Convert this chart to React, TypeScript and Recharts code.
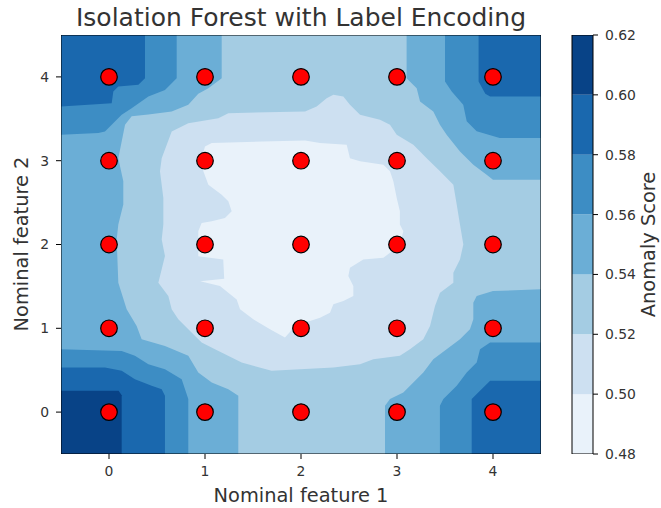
import React from 'react';
import { ScatterChart, Scatter, XAxis, YAxis } from 'recharts';

// colour levels of the anomaly score (contourf levels) and the Blues colours of each band
const levels = [0.48, 0.5, 0.52, 0.54, 0.56, 0.58, 0.6, 0.62];
const bandColors = ['#e9f2fa', '#cde0f1', '#a4cce3', '#6baed6', '#3d8dc4', '#1a68ae', '#084387'];

// the label encoded categories of both features
const feature1Values = [0, 1, 2, 3, 4];
const feature2Values = [0, 1, 2, 3, 4];

// contour regions, as [feature 1, feature 2] vertices
const plotBox: [number, number][] = [[-0.5, -0.5], [4.5, -0.5], [4.5, 4.5], [-0.5, 4.5], [-0.5, -0.5]];

const cornerAbove060: [number, number][] = [
  [-0.5, -0.5], [0.132, -0.5], [0.132, 0.2], [0.1, 0.255], [-0.5, 0.255],
];

const regionBelow058: [number, number][] = [
  [-0.5, 3.647], [0.028, 3.687], [0.045, 3.825], [0.097, 3.885], [0.306, 3.905], [0.375, 3.984], [0.375, 4.5],
  [3.85, 4.5], [3.85, 3.944], [3.92, 3.8], [3.97, 3.766], [4.5, 3.766],
  [4.5, 0.373], [3.97, 0.373], [3.778, 0.155], [3.778, -0.5],
  [0.583, -0.5], [0.583, 0.195], [0.549, 0.274], [0.444, 0.314], [0.27, 0.393], [0.132, 0.493], [-0.042, 0.532], [-0.5, 0.532],
];

const regionBelow056: [number, number][] = [
  [-0.5, 3.31], [-0.111, 3.33], [-0.042, 3.349], [0.132, 3.548], [0.236, 3.627], [0.41, 3.766], [0.583, 3.845], [0.705, 3.984], [0.705, 4.5],
  [3.5, 4.5], [3.5, 3.944], [3.57, 3.825], [3.69, 3.667], [3.726, 3.47], [3.83, 3.35], [4.07, 3.27], [4.5, 3.27],
  [4.5, 0.83], [3.97, 0.83], [3.865, 0.75], [3.83, 0.592], [3.726, 0.473], [3.622, 0.314], [3.483, 0.155], [3.447, 0.076], [3.447, -0.5],
  [0.826, -0.5], [0.826, 0.155], [0.757, 0.393], [0.583, 0.512], [0.41, 0.572], [0.27, 0.671], [0.132, 0.73], [-0.5, 0.75],
];

const regionBelow054: [number, number][] = [
  [1.174, 4.5], [3.1, 4.5], [3.1, 3.984], [3.205, 3.865], [3.24, 3.706], [3.378, 3.587], [3.447, 3.43], [3.517, 3.31],
  [3.656, 3.111], [3.795, 2.952], [3.934, 2.833], [4.0, 2.774], [4.5, 2.774],
  [4.5, 1.465], [4.0, 1.445], [3.83, 1.385], [3.795, 1.306], [3.795, 1.108], [3.76, 0.989], [3.656, 0.87], [3.517, 0.75],
  [3.378, 0.631], [3.274, 0.473], [3.17, 0.354], [3.066, 0.235], [2.927, 0.155], [2.875, 0.076], [2.875, -0.5],
  [1.347, -0.5], [1.347, 0.195], [1.243, 0.274], [1.07, 0.354], [0.93, 0.473], [0.826, 0.671], [0.583, 0.79], [0.34, 0.87],
  [0.288, 1.028], [0.184, 1.227], [0.097, 1.544], [0.08, 2.06], [0.097, 2.238], [0.149, 2.476], [0.149, 2.754], [0.097, 3.03],
  [0.132, 3.23], [0.167, 3.43], [0.236, 3.53], [0.41, 3.55], [0.653, 3.587], [0.826, 3.667], [0.93, 3.8], [1.035, 3.865], [1.174, 3.984],
];

const regionBelow052: [number, number][] = [
  [0.566, 2.238], [0.566, 2.556], [0.531, 2.873], [0.549, 3.03], [0.653, 3.349], [0.826, 3.448], [1.139, 3.508], [1.243, 3.567],
  [2.042, 3.587], [2.163, 3.647], [2.267, 3.746], [2.337, 3.786], [2.441, 3.766], [2.51, 3.667], [2.615, 3.548], [2.823, 3.488],
  [2.927, 3.43], [2.997, 3.31], [3.17, 3.19], [3.309, 3.03], [3.448, 2.873], [3.587, 2.714], [3.622, 2.476], [3.656, 2.238],
  [3.691, 2.0], [3.656, 1.822], [3.587, 1.663], [3.587, 1.544], [3.448, 1.425], [3.396, 1.266], [3.344, 1.028], [3.274, 0.87],
  [3.135, 0.75], [3.03, 0.671], [2.753, 0.631], [2.615, 0.572], [2.337, 0.532], [1.99, 0.512], [1.694, 0.492], [1.382, 0.592],
  [1.104, 0.75], [0.965, 0.83], [0.826, 0.989], [0.722, 1.108], [0.653, 1.227], [0.618, 1.385], [0.514, 1.544], [0.583, 1.862], [0.549, 2.06],
];

const regionBelow050: [number, number][] = [
  [1.0, 3.17], [1.07, 3.21], [1.6, 3.23], [2.042, 3.24], [2.198, 3.21], [2.476, 3.19], [2.51, 3.03], [2.615, 2.992],
  [2.858, 2.952], [2.927, 2.873], [2.962, 2.754], [2.997, 2.556], [3.03, 2.397], [3.03, 2.238], [3.066, 2.159], [3.03, 2.0],
  [2.927, 1.901], [2.858, 1.842], [2.649, 1.822], [2.51, 1.723], [2.493, 1.624], [2.545, 1.504], [2.545, 1.385], [2.441, 1.326],
  [2.337, 1.286], [2.302, 1.187], [2.198, 1.127], [2.094, 1.088], [1.99, 1.068], [1.93, 1.04], [1.88, 0.95], [1.833, 0.889],
  [1.677, 0.988], [1.503, 1.107], [1.365, 1.226], [1.33, 1.345], [1.156, 1.504], [0.95, 1.56], [1.2, 1.59], [1.19, 1.82],
  [0.93, 1.86], [0.93, 2.159], [0.965, 2.258], [1.07, 2.278], [1.208, 2.317], [1.278, 2.397], [1.243, 2.516], [1.174, 2.595],
  [1.035, 2.714], [0.983, 2.873], [0.965, 3.03],
];

// painted from the outside in, each one over the previous
const contourLayers: { poly: [number, number][]; color: string }[] = [
  { poly: plotBox, color: bandColors[5] },
  { poly: cornerAbove060, color: bandColors[6] },
  { poly: regionBelow058, color: bandColors[4] },
  { poly: regionBelow056, color: bandColors[3] },
  { poly: regionBelow054, color: bandColors[2] },
  { poly: regionBelow052, color: bandColors[1] },
  { poly: regionBelow050, color: bandColors[0] },
];

const gridPoints = feature2Values.flatMap((y) => feature1Values.map((x) => ({ x, y })));

const toPoints = (poly: [number, number][]) => poly.map(([x, y]) => ({ x, y }));

const colorbarBands = bandColors.map((color, i) => ({
  color,
  poly: [[0, levels[i]], [1, levels[i]], [1, levels[i + 1]], [0, levels[i + 1]]] as [number, number][],
}));
const colorbarBox: [number, number][] = [[0, 0.48], [1, 0.48], [1, 0.62], [0, 0.62], [0, 0.48]];

const FONT = 'DejaVu Sans, sans-serif';
const TEXT = '#333';
const noSymbol = () => <g />;
const tickStyle = { fill: TEXT, fontSize: 13.9, fontFamily: FONT };

export default function App() {
  return (
    <div style={{ position: 'absolute', left: 0, top: 0, width: 661, height: 508, background: '#fff' }}>
      <div style={{ position: 'absolute', left: 0, top: 0 }}>
        <ScatterChart width={661} height={508} margin={{ top: 35, right: 120, bottom: 0, left: 0 }}>
          <XAxis
            type="number"
            dataKey="x"
            domain={[-0.5, 4.5]}
            allowDataOverflow
            ticks={feature1Values}
            height={54}
            axisLine={false}
            tickLine={{ stroke: '#000', strokeWidth: 1 }}
            tickSize={5}
            tickMargin={7}
            tick={tickStyle}
          />
          <YAxis
            type="number"
            dataKey="y"
            domain={[-0.5, 4.5]}
            allowDataOverflow
            ticks={feature2Values}
            width={61}
            axisLine={false}
            tickLine={{ stroke: '#000', strokeWidth: 1 }}
            tickSize={5}
            tickMargin={7}
            tick={tickStyle}
          />
          {contourLayers.map((layer, i) => (
            <Scatter
              key={i}
              data={toPoints(layer.poly)}
              line={{ fill: layer.color, stroke: 'none' }}
              shape={noSymbol}
              isAnimationActive={false}
            />
          ))}
          <Scatter
            data={gridPoints}
            shape={(p: any) => <circle cx={p.cx} cy={p.cy} r={8.3} fill="#ff0000" stroke="#000" strokeWidth={1.2} />}
            isAnimationActive={false}
          />
          <Scatter
            data={toPoints(plotBox)}
            line={{ fill: 'none', stroke: '#000', strokeWidth: 1 }}
            shape={noSymbol}
            isAnimationActive={false}
          />
        </ScatterChart>
      </div>
      <div style={{ position: 'absolute', left: 0, top: 0 }}>
        <ScatterChart width={661} height={508} margin={{ top: 35, right: 0, bottom: 54, left: 572 }}>
          <XAxis type="number" dataKey="x" domain={[0, 1]} hide height={0} />
          <YAxis
            type="number"
            dataKey="y"
            orientation="right"
            domain={[0.48, 0.62]}
            allowDataOverflow
            ticks={levels}
            tickFormatter={(v: number) => v.toFixed(2)}
            width={68}
            axisLine={false}
            tickLine={{ stroke: '#000', strokeWidth: 1 }}
            tickSize={5}
            tickMargin={7}
            tick={tickStyle}
          />
          {colorbarBands.map((band, i) => (
            <Scatter
              key={i}
              data={toPoints(band.poly)}
              line={{ fill: band.color, stroke: 'none' }}
              shape={noSymbol}
              isAnimationActive={false}
            />
          ))}
          <Scatter
            data={toPoints(colorbarBox)}
            line={{ fill: 'none', stroke: '#000', strokeWidth: 1 }}
            shape={noSymbol}
            isAnimationActive={false}
          />
        </ScatterChart>
      </div>
      <svg width={661} height={508} style={{ position: 'absolute', left: 0, top: 0, pointerEvents: 'none' }}>
        <text x={301} y={26} textAnchor="middle" fontSize={25} fontFamily={FONT} fill={TEXT}>
          Isolation Forest with Label Encoding
        </text>
        <text x={301} y={502} textAnchor="middle" fontSize={19.4} fontFamily={FONT} fill={TEXT}>
          Nominal feature 1
        </text>
        <text x={28} y={244} textAnchor="middle" fontSize={19.4} fontFamily={FONT} fill={TEXT} transform="rotate(-90 28 244)">
          Nominal feature 2
        </text>
        <text x={655} y={244.5} textAnchor="middle" fontSize={19.4} fontFamily={FONT} fill={TEXT} transform="rotate(-90 655 244.5)">
          Anomaly Score
        </text>
      </svg>
    </div>
  );
}
